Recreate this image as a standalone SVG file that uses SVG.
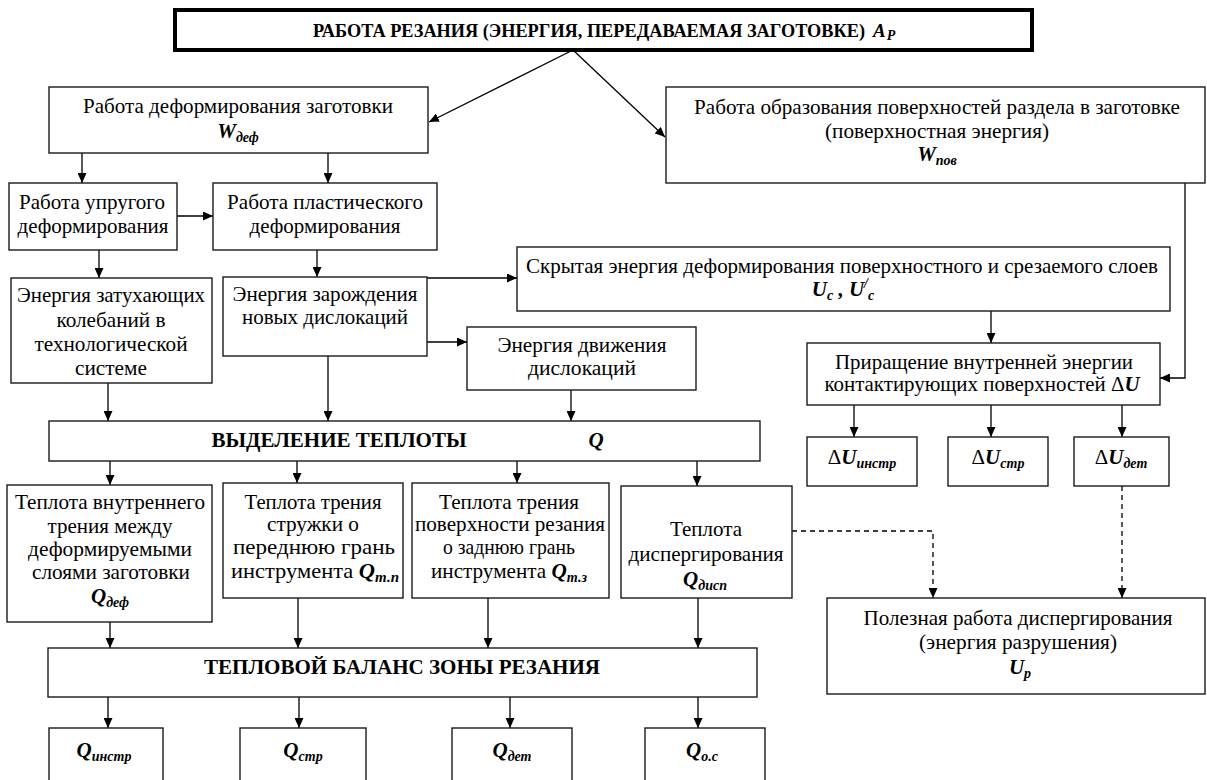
<svg xmlns="http://www.w3.org/2000/svg" width="1207" height="780" viewBox="0 0 1207 780" font-family="Liberation Serif, Tinos, Times New Roman, Times, DejaVu Serif, Noto Serif, FreeSerif, serif">
<style>
.b{fill:#fff;stroke:#1a1a1a;stroke-width:1.4}
.tb{fill:#fff;stroke:#000;stroke-width:4}
.t{font-family:"Liberation Serif",Tinos,"Times New Roman",Times,"DejaVu Serif","Noto Serif",FreeSerif,serif;font-size:21px;fill:#000;text-anchor:middle}
.bd{font-weight:bold}
.bi{font-weight:bold;font-style:italic}
.sub{font-size:14px;font-weight:bold;font-style:italic}
.c{stroke:#000;stroke-width:1.3;fill:none}
.d{stroke-dasharray:5 4}
</style>
<defs>
<marker id="ah" markerUnits="userSpaceOnUse" markerWidth="10" markerHeight="9" refX="10" refY="4.5" orient="auto">
<path d="M0,0 L10,4.5 L0,9 z" fill="#000"/>
</marker>
</defs>

<g id="connectors">
<line class="c" x1="573" y1="50" x2="429" y2="122" marker-end="url(#ah)"/>
<line class="c" x1="573" y1="50" x2="665" y2="137" marker-end="url(#ah)"/>
<line class="c" x1="82" y1="153" x2="82" y2="183" marker-end="url(#ah)"/>
<line class="c" x1="328" y1="153" x2="328" y2="183" marker-end="url(#ah)"/>
<line class="c" x1="177" y1="216" x2="213" y2="216" marker-end="url(#ah)"/>
<line class="c" x1="99" y1="250" x2="99" y2="278" marker-end="url(#ah)"/>
<line class="c" x1="317" y1="250" x2="317" y2="277" marker-end="url(#ah)"/>
<line class="c" x1="427" y1="278" x2="517" y2="278" marker-end="url(#ah)"/>
<line class="c" x1="427" y1="342" x2="467" y2="342" marker-end="url(#ah)"/>
<line class="c" x1="571" y1="390" x2="571" y2="421" marker-end="url(#ah)"/>
<line class="c" x1="108" y1="383" x2="108" y2="421" marker-end="url(#ah)"/>
<line class="c" x1="328" y1="356" x2="328" y2="421" marker-end="url(#ah)"/>
<line class="c" x1="991" y1="311" x2="991" y2="343" marker-end="url(#ah)"/>
<polyline class="c" points="1185,183 1185,378 1160,378" marker-end="url(#ah)"/>
<line class="c" x1="854" y1="405" x2="854" y2="437" marker-end="url(#ah)"/>
<line class="c" x1="991" y1="405" x2="991" y2="437" marker-end="url(#ah)"/>
<line class="c" x1="1122" y1="405" x2="1122" y2="437" marker-end="url(#ah)"/>
<line class="c" x1="110" y1="461" x2="110" y2="485" marker-end="url(#ah)"/>
<line class="c" x1="297" y1="461" x2="297" y2="483" marker-end="url(#ah)"/>
<line class="c" x1="517" y1="461" x2="517" y2="483" marker-end="url(#ah)"/>
<line class="c" x1="697" y1="461" x2="697" y2="486" marker-end="url(#ah)"/>
<polyline class="c d" points="792,531 933,531 933,598" marker-end="url(#ah)"/>
<line class="c d" x1="1122" y1="486" x2="1122" y2="598" marker-end="url(#ah)"/>
<line class="c" x1="110" y1="622" x2="110" y2="648" marker-end="url(#ah)"/>
<line class="c" x1="298" y1="598" x2="298" y2="648" marker-end="url(#ah)"/>
<line class="c" x1="488" y1="598" x2="488" y2="648" marker-end="url(#ah)"/>
<line class="c" x1="698" y1="598" x2="698" y2="648" marker-end="url(#ah)"/>
<line class="c" x1="108" y1="697" x2="108" y2="728" marker-end="url(#ah)"/>
<line class="c" x1="299" y1="697" x2="299" y2="728" marker-end="url(#ah)"/>
<line class="c" x1="510" y1="697" x2="510" y2="728" marker-end="url(#ah)"/>
<line class="c" x1="698" y1="697" x2="698" y2="728" marker-end="url(#ah)"/>
</g>

<g id="n-title">
<rect class="tb" x="175" y="10" width="857" height="40"/>
<text class="t bd" x="313" y="37" style="text-anchor:start;font-size:18px" textLength="552" lengthAdjust="spacingAndGlyphs">РАБОТА РЕЗАНИЯ (ЭНЕРГИЯ, ПЕРЕДАВАЕМАЯ ЗАГОТОВКЕ)</text>
<text class="t bi" x="873" y="37" style="text-anchor:start;font-size:19px">A<tspan class="sub" dx="1" dy="3">P</tspan></text>
</g>

<g id="n-wdef">
<rect class="b" x="49" y="87" width="379" height="66"/>
<text class="t" x="238" y="113" textLength="310" lengthAdjust="spacingAndGlyphs">Работа деформирования заготовки</text>
<text class="t" x="238" y="138"><tspan class="bi">W</tspan><tspan class="sub" dy="4">деф</tspan></text>
</g>

<g id="n-wpov">
<rect class="b" x="666" y="87" width="539" height="96"/>
<text class="t" x="937" y="114" textLength="486" lengthAdjust="spacingAndGlyphs">Работа образования поверхностей раздела в заготовке</text>
<text class="t" x="937" y="138" textLength="224" lengthAdjust="spacingAndGlyphs">(поверхностная энергия)</text>
<text class="t" x="937" y="161"><tspan class="bi">W</tspan><tspan class="sub" dy="4">пов</tspan></text>
</g>

<g id="n-uprug">
<rect class="b" x="9" y="183" width="168" height="67"/>
<text class="t" x="92" y="209" textLength="146" lengthAdjust="spacingAndGlyphs">Работа упругого</text>
<text class="t" x="93" y="233" textLength="151" lengthAdjust="spacingAndGlyphs">деформирования</text>
</g>

<g id="n-plast">
<rect class="b" x="213" y="183" width="224" height="67"/>
<text class="t" x="325" y="209" textLength="196" lengthAdjust="spacingAndGlyphs">Работа пластического</text>
<text class="t" x="325" y="233" textLength="151" lengthAdjust="spacingAndGlyphs">деформирования</text>
</g>

<g id="n-skryt">
<rect class="b" x="517" y="247" width="653" height="64"/>
<text class="t" x="842" y="273" textLength="632" lengthAdjust="spacingAndGlyphs">Скрытая энергия деформирования поверхностного и срезаемого слоев</text>
<text class="t" x="843" y="296"><tspan class="bi">U</tspan><tspan class="sub" dy="4">c</tspan><tspan class="bi" dy="-4"> , U</tspan><tspan class="sub" dy="-8">/</tspan><tspan class="sub" dy="12">c</tspan></text>
</g>

<g id="n-zatuh">
<rect class="b" x="11" y="278" width="201" height="105"/>
<text class="t" x="111" y="302" textLength="188" lengthAdjust="spacingAndGlyphs">Энергия затухающих</text>
<text class="t" x="111" y="327" textLength="109" lengthAdjust="spacingAndGlyphs">колебаний в</text>
<text class="t" x="111" y="351" textLength="153" lengthAdjust="spacingAndGlyphs">технологической</text>
<text class="t" x="111" y="375" textLength="72" lengthAdjust="spacingAndGlyphs">системе</text>
</g>

<g id="n-zarozh">
<rect class="b" x="223" y="277" width="204" height="79"/>
<text class="t" x="325" y="301" textLength="185" lengthAdjust="spacingAndGlyphs">Энергия зарождения</text>
<text class="t" x="325" y="324" textLength="166" lengthAdjust="spacingAndGlyphs">новых дислокаций</text>
</g>

<g id="n-dvizh">
<rect class="b" x="467" y="327" width="229" height="63"/>
<text class="t" x="582" y="352" textLength="169" lengthAdjust="spacingAndGlyphs">Энергия движения</text>
<text class="t" x="582" y="375" textLength="108" lengthAdjust="spacingAndGlyphs">дислокаций</text>
</g>

<g id="n-prirasch">
<rect class="b" x="807" y="343" width="353" height="62"/>
<text class="t" x="984" y="369" textLength="298" lengthAdjust="spacingAndGlyphs">Приращение внутренней энергии</text>
<text class="t" x="982" y="391" textLength="315" lengthAdjust="spacingAndGlyphs">контактирующих поверхностей Δ<tspan class="bi">U</tspan></text>
</g>

<g id="n-du-instr">
<rect class="b" x="807" y="437" width="110" height="49"/>
<text class="t" x="862" y="464">Δ<tspan class="bi">U</tspan><tspan class="sub" dy="4">инстр</tspan></text>
</g>
<g id="n-du-str">
<rect class="b" x="948" y="437" width="100" height="49"/>
<text class="t" x="998" y="464">Δ<tspan class="bi">U</tspan><tspan class="sub" dy="4">стр</tspan></text>
</g>
<g id="n-du-det">
<rect class="b" x="1074" y="437" width="95" height="49"/>
<text class="t" x="1121" y="464">Δ<tspan class="bi">U</tspan><tspan class="sub" dy="4">дет</tspan></text>
</g>

<g id="n-vydel">
<rect class="b" x="49" y="421" width="711" height="40"/>
<text class="t bd" x="339" y="447" textLength="255" lengthAdjust="spacingAndGlyphs">ВЫДЕЛЕНИЕ ТЕПЛОТЫ</text>
<text class="t bi" x="596" y="447">Q</text>
</g>

<g id="n-q-def">
<rect class="b" x="7" y="485" width="205" height="137"/>
<text class="t" x="110" y="509" textLength="190" lengthAdjust="spacingAndGlyphs">Теплота внутреннего</text>
<text class="t" x="110" y="533" textLength="125" lengthAdjust="spacingAndGlyphs">трения между</text>
<text class="t" x="110" y="556" textLength="164" lengthAdjust="spacingAndGlyphs">деформируемыми</text>
<text class="t" x="111" y="579" textLength="158" lengthAdjust="spacingAndGlyphs">слоями заготовки</text>
<text class="t" x="110" y="603"><tspan class="bi">Q</tspan><tspan class="sub" dy="4">деф</tspan></text>
</g>

<g id="n-q-tp">
<rect class="b" x="223" y="483" width="180" height="115"/>
<text class="t" x="313" y="509" textLength="137" lengthAdjust="spacingAndGlyphs">Теплота трения</text>
<text class="t" x="313" y="531" textLength="92" lengthAdjust="spacingAndGlyphs">стружки о</text>
<text class="t" x="314" y="554" textLength="162" lengthAdjust="spacingAndGlyphs">переднюю грань</text>
<text class="t" x="315" y="578" textLength="168" lengthAdjust="spacingAndGlyphs">инструмента <tspan class="bi">Q</tspan><tspan class="sub" dy="4">т.п</tspan></text>
</g>

<g id="n-q-tz">
<rect class="b" x="412" y="483" width="197" height="115"/>
<text class="t" x="509" y="509" textLength="140" lengthAdjust="spacingAndGlyphs">Теплота трения</text>
<text class="t" x="510" y="531" textLength="190" lengthAdjust="spacingAndGlyphs">поверхности резания</text>
<text class="t" x="509" y="554" textLength="132" lengthAdjust="spacingAndGlyphs">о заднюю грань</text>
<text class="t" x="509" y="578" textLength="156" lengthAdjust="spacingAndGlyphs">инструмента <tspan class="bi">Q</tspan><tspan class="sub" dy="4">т.з</tspan></text>
</g>

<g id="n-q-disp">
<rect class="b" x="621" y="486" width="171" height="112"/>
<text class="t" x="706" y="536" textLength="72" lengthAdjust="spacingAndGlyphs">Теплота</text>
<text class="t" x="706" y="561" textLength="155" lengthAdjust="spacingAndGlyphs">диспергирования</text>
<text class="t" x="705" y="586"><tspan class="bi">Q</tspan><tspan class="sub" dy="4">дисп</tspan></text>
</g>

<g id="n-up">
<rect class="b" x="827" y="598" width="378" height="96"/>
<text class="t" x="1018" y="625" textLength="309" lengthAdjust="spacingAndGlyphs">Полезная работа диспергирования</text>
<text class="t" x="1018" y="649" textLength="198" lengthAdjust="spacingAndGlyphs">(энергия разрушения)</text>
<text class="t" x="1020" y="674"><tspan class="bi">U</tspan><tspan class="sub" dy="4">р</tspan></text>
</g>

<g id="n-balans">
<rect class="b" x="48" y="648" width="709" height="49"/>
<text class="t bd" x="402" y="674" textLength="396" lengthAdjust="spacingAndGlyphs">ТЕПЛОВОЙ БАЛАНС ЗОНЫ РЕЗАНИЯ</text>
</g>

<g id="n-q-instr">
<rect class="b" x="49" y="728" width="114" height="70"/>
<text class="t" x="104" y="757"><tspan class="bi">Q</tspan><tspan class="sub" dy="4">инстр</tspan></text>
</g>
<g id="n-q-str">
<rect class="b" x="240" y="728" width="126" height="70"/>
<text class="t" x="303" y="757"><tspan class="bi">Q</tspan><tspan class="sub" dy="4">стр</tspan></text>
</g>
<g id="n-q-det">
<rect class="b" x="452" y="728" width="120" height="70"/>
<text class="t" x="512" y="757"><tspan class="bi">Q</tspan><tspan class="sub" dy="4">дет</tspan></text>
</g>
<g id="n-q-os">
<rect class="b" x="645" y="728" width="120" height="70"/>
<text class="t" x="702" y="757"><tspan class="bi">Q</tspan><tspan class="sub" dy="4">о.с</tspan></text>
</g>
</svg>
